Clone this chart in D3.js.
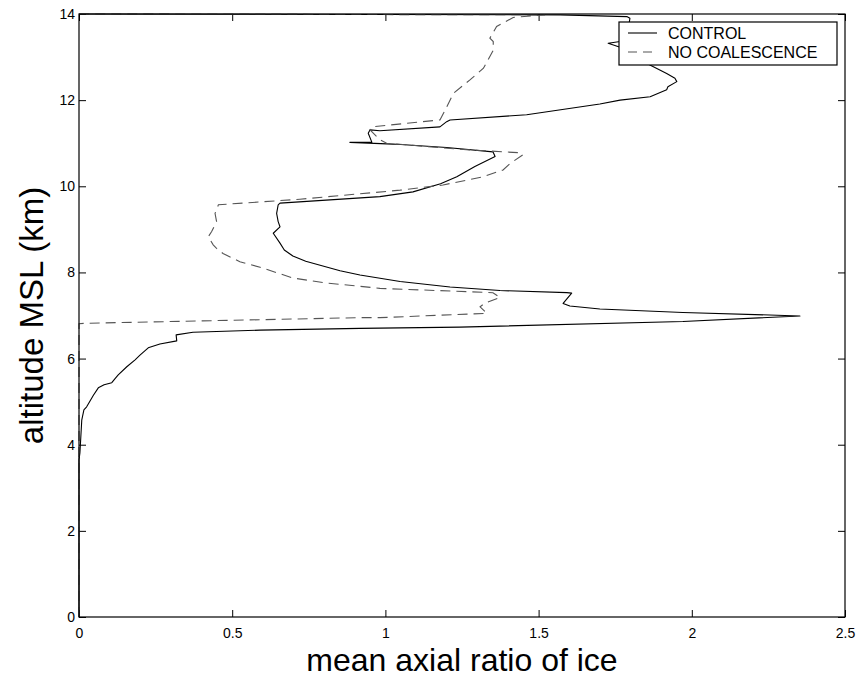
<!DOCTYPE html>
<html>
<head>
<meta charset="utf-8">
<script src="https://cdn.jsdelivr.net/npm/d3@7"></script>
<style>
  body { margin: 0; background: #fff; }
  svg { display: block; font-family: "Liberation Sans", Arial, Helvetica, sans-serif; }
</style>
</head>
<body>
<div id="chart"></div>
<script>
// axial ratio vs altitude (km), traced along each curve from the ground up
const control = [
  [0, 0], [0, 3.65], [0.003, 3.81], [0.009, 4.57], [0.016, 4.81], [0.025, 4.88],
  [0.047, 5.15], [0.063, 5.32], [0.082, 5.39], [0.107, 5.44], [0.117, 5.53],
  [0.128, 5.62], [0.156, 5.81], [0.183, 5.97], [0.199, 6.08], [0.226, 6.25],
  [0.264, 6.34], [0.319, 6.41], [0.317, 6.55], [0.372, 6.61], [0.591, 6.66],
  [0.917, 6.70], [1.243, 6.73], [1.971, 6.86], [2.353, 6.99], [1.971, 7.07],
  [1.70, 7.15], [1.602, 7.22], [1.580, 7.28], [1.608, 7.52], [1.592, 7.53],
  [1.374, 7.58], [1.211, 7.66], [1.048, 7.79], [0.917, 7.94], [0.852, 8.04],
  [0.790, 8.16], [0.740, 8.26], [0.698, 8.38], [0.670, 8.52], [0.656, 8.68],
  [0.634, 8.91], [0.656, 9.06],
  [0.650, 9.18], [0.645, 9.37], [0.650, 9.57], [0.656, 9.61], [0.982, 9.76],
  [1.090, 9.87], [1.180, 10.06], [1.233, 10.22], [1.292, 10.46], [1.358, 10.69], [1.351, 10.80],
  [1.200, 10.90], [1.025, 10.98], [0.884, 11.02], [0.956, 11.02], [0.944, 11.23],
  [0.950, 11.31], [0.982, 11.29], [1.178, 11.38], [1.200, 11.50], [1.211, 11.54],
  [1.461, 11.66], [1.700, 11.91], [1.766, 12.00], [1.864, 12.08], [1.918, 12.24],
  [1.922, 12.31], [1.951, 12.43], [1.945, 12.51], [1.918, 12.62], [1.873, 12.78],
  [1.831, 12.93], [1.782, 13.16], [1.766, 13.23], [1.727, 13.32], [1.766, 13.36],
  [1.792, 13.63], [1.798, 13.90], [1.788, 13.94], [1.570, 13.98], [0, 14.0]
];

const noCoalescence = [
  [0, 0], [0, 6.81], [0.025, 6.82], [0.917, 6.95], [0.982, 6.95], [1.331, 7.05],
  [1.309, 7.20], [1.325, 7.29], [1.374, 7.42], [1.351, 7.53], [0.982, 7.63],
  [0.800, 7.76], [0.698, 7.87], [0.591, 8.12], [0.525, 8.25], [0.470, 8.44],
  [0.449, 8.56], [0.438, 8.64], [0.422, 8.83], [0.433, 8.95], [0.449, 9.18],
  [0.444, 9.37], [0.455, 9.57], [0.536, 9.61], [0.721, 9.70], [1.048, 9.91],
  [1.188, 10.03], [1.319, 10.22], [1.384, 10.38], [1.407, 10.53], [1.449, 10.73],
  [1.434, 10.78], [1.243, 10.86], [1.004, 11.00], [0.982, 11.08], [0.950, 11.31],
  [0.956, 11.38], [1.178, 11.54], [1.195, 11.77], [1.222, 12.16], [1.276, 12.47],
  [1.320, 12.74], [1.352, 13.16], [1.352, 13.36], [1.341, 13.44], [1.363, 13.71],
  [1.417, 13.92], [1.521, 13.98], [0, 14.0]
];

const seriesNames = ["CONTROL", "NO COALESCENCE"];
const xTicks = [0, 0.5, 1, 1.5, 2, 2.5];
const yTicks = [0, 2, 4, 6, 8, 10, 12, 14];

const width = 858, height = 679;
const margin = { top: 14, right: 13, bottom: 62, left: 79 };

const svg = d3.select("#chart")
  .append("svg")
  .attr("width", width)
  .attr("height", height);

const x = d3.scaleLinear().domain([0, 2.5]).range([margin.left, width - margin.right]);
const y = d3.scaleLinear().domain([0, 14]).range([height - margin.bottom, margin.top]);

const tickLen = 7;

// axes with inward ticks on all four sides
const axisB = svg.append("g")
  .attr("transform", `translate(0,${y(0)})`)
  .call(d3.axisBottom(x).tickValues(xTicks).tickSize(-tickLen).tickPadding(11).tickFormat(d3.format("")));
const axisL = svg.append("g")
  .attr("transform", `translate(${x(0)},0)`)
  .call(d3.axisLeft(y).tickValues(yTicks).tickSize(-tickLen).tickPadding(4).tickFormat(d3.format("")));
const axisT = svg.append("g")
  .attr("transform", `translate(0,${y(14)})`)
  .call(d3.axisTop(x).tickValues(xTicks).tickSize(-tickLen).tickFormat(""));
const axisR = svg.append("g")
  .attr("transform", `translate(${x(2.5)},0)`)
  .call(d3.axisRight(y).tickValues(yTicks).tickSize(-tickLen).tickFormat(""));

[axisB, axisL, axisT, axisR].forEach(g => {
  g.select(".domain").remove();
  g.selectAll(".tick line").attr("stroke", "#000");
  g.selectAll("text")
    .attr("fill", "#000")
    .style("font-size", "14px")
    .style("font-family", "'Liberation Sans', Arial, sans-serif");
});

// curves
const line = d3.line().x(d => x(d[0])).y(d => y(d[1]));

svg.append("path")
  .datum(control)
  .attr("d", line)
  .attr("fill", "none")
  .attr("stroke", "#000")
  .attr("stroke-width", 1.1)
  .attr("stroke-linejoin", "round");

svg.append("path")
  .datum(noCoalescence)
  .attr("d", line)
  .attr("fill", "none")
  .attr("stroke", "#555")
  .attr("stroke-width", 1.1)
  .attr("stroke-dasharray", "10,6");

// plot frame
svg.append("rect")
  .attr("x", x(0))
  .attr("y", y(14))
  .attr("width", x(2.5) - x(0))
  .attr("height", y(0) - y(14))
  .attr("fill", "none")
  .attr("stroke", "#000")
  .attr("stroke-width", 1.2);

// legend
const legend = svg.append("g").attr("transform", "translate(619,22)");
legend.append("rect")
  .attr("width", 218)
  .attr("height", 43)
  .attr("fill", "#fff")
  .attr("stroke", "#000")
  .attr("stroke-width", 1.2);

legend.selectAll(".item")
  .data(seriesNames)
  .join("g")
  .attr("class", "item")
  .attr("transform", (d, i) => `translate(0,${11 + i * 19})`)
  .each(function (d, i) {
    const g = d3.select(this);
    g.append("line")
      .attr("x1", 9).attr("x2", 38)
      .attr("stroke", i === 0 ? "#000" : "#555")
      .attr("stroke-width", 1.1)
      .attr("stroke-dasharray", i === 0 ? null : "9,6");
    g.append("text")
      .attr("x", 49)
      .attr("y", 5.5)
      .style("font-size", "16px")
      .text(d);
  });

// axis titles
svg.append("text")
  .attr("x", (x(0) + x(2.5)) / 2)
  .attr("y", 671)
  .attr("text-anchor", "middle")
  .style("font-size", "32px")
  .text("mean axial ratio of ice");

svg.append("text")
  .attr("transform", `translate(43,${(y(0) + y(14)) / 2}) rotate(-90)`)
  .attr("text-anchor", "middle")
  .style("font-size", "33px")
  .text("altitude MSL (km)");
</script>
</body>
</html>
